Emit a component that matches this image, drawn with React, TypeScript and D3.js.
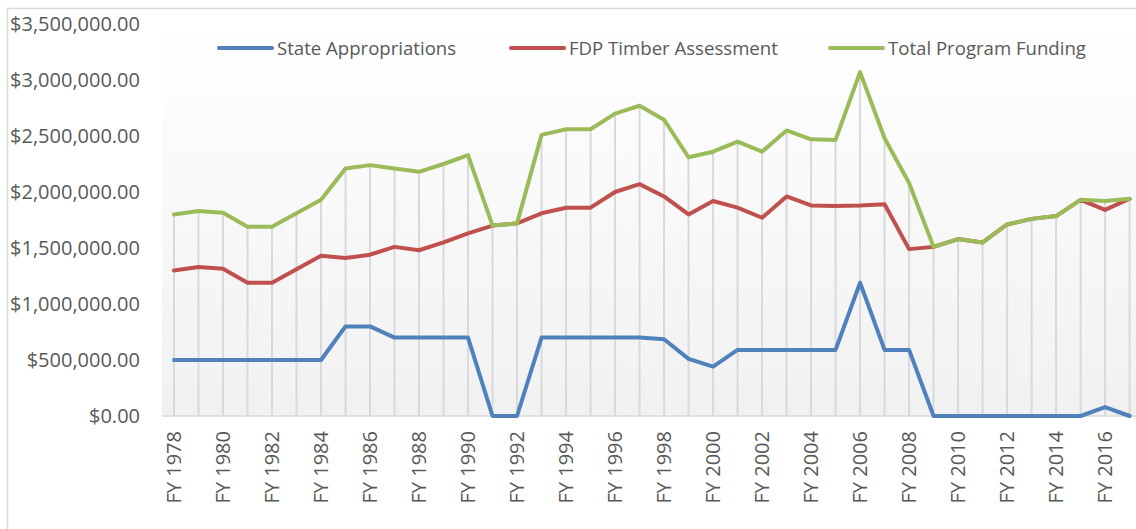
import { useEffect, useRef } from "react";
import * as d3 from "d3";

// fiscal years on the category axis
const years = [
  "FY 1978", "FY 1979", "FY 1980", "FY 1981", "FY 1982", "FY 1983", "FY 1984", "FY 1985",
  "FY 1986", "FY 1987", "FY 1988", "FY 1989", "FY 1990", "FY 1991", "FY 1992", "FY 1993",
  "FY 1994", "FY 1995", "FY 1996", "FY 1997", "FY 1998", "FY 1999", "FY 2000", "FY 2001",
  "FY 2002", "FY 2003", "FY 2004", "FY 2005", "FY 2006", "FY 2007", "FY 2008", "FY 2009",
  "FY 2010", "FY 2011", "FY 2012", "FY 2013", "FY 2014", "FY 2015", "FY 2016", "FY 2017",
];

const stateAppropriations = [
  500000, 500000, 500000, 500000, 500000, 500000, 500000, 800000,
  800000, 700000, 700000, 700000, 700000, 0, 0, 700000,
  700000, 700000, 700000, 700000, 685000, 510000, 440000, 590000,
  590000, 590000, 590000, 590000, 1190000, 590000, 590000, 0,
  0, 0, 0, 0, 0, 0, 80000, 0,
];

const fdpTimber = [
  1300000, 1330000, 1315000, 1190000, 1190000, 1310000, 1430000, 1410000,
  1440000, 1510000, 1480000, 1550000, 1630000, 1700000, 1720000, 1810000,
  1860000, 1860000, 2000000, 2070000, 1960000, 1800000, 1920000, 1860000,
  1770000, 1960000, 1880000, 1875000, 1880000, 1890000, 1490000, 1510000,
  1580000, 1550000, 1710000, 1760000, 1785000, 1930000, 1840000, 1940000,
];

const totalFunding = [
  1800000, 1830000, 1815000, 1690000, 1690000, 1810000, 1930000, 2210000,
  2240000, 2210000, 2180000, 2250000, 2330000, 1700000, 1720000, 2510000,
  2560000, 2560000, 2700000, 2770000, 2645000, 2310000, 2360000, 2450000,
  2360000, 2550000, 2470000, 2465000, 3070000, 2480000, 2080000, 1510000,
  1580000, 1550000, 1710000, 1760000, 1785000, 1930000, 1920000, 1940000,
];

const yTicks = [0, 500000, 1000000, 1500000, 2000000, 2500000, 3000000, 3500000];

const seriesNames = ["State Appropriations", "FDP Timber Assessment", "Total Program Funding"];
const seriesColors = ["#4f81bd", "#c0504d", "#9bbb59"];

const W = 1136;
const H = 529;
const FONT = "'Open Sans', sans-serif";

export default function App() {
  const ref = useRef<SVGSVGElement | null>(null);

  useEffect(() => {
    if (!ref.current) return;
    const svg = d3.select(ref.current);
    svg.selectAll("*").remove();

    const plot = { left: 162, right: 1142, top: 24, bottom: 416 };

    const x = d3.scalePoint<string>().domain(years).range([174, 1129.6]);
    const y = d3.scaleLinear().domain([0, 3500000]).range([plot.bottom, plot.top]);

    // chart border
    svg.append("rect")
      .attr("x", 7.5).attr("y", 8.5)
      .attr("width", W).attr("height", H)
      .attr("fill", "#fff")
      .attr("stroke", "#d9d9d9")
      .attr("stroke-width", 1.5);

    // plot area gradient
    const grad = svg.append("defs").append("linearGradient")
      .attr("id", "plotGrad")
      .attr("x1", 0).attr("y1", 0).attr("x2", 0).attr("y2", 1);
    grad.append("stop").attr("offset", "0%").attr("stop-color", "#ffffff");
    grad.append("stop").attr("offset", "100%").attr("stop-color", "#f1f1f1");

    svg.append("rect")
      .attr("x", plot.left).attr("y", plot.top)
      .attr("width", plot.right - plot.left).attr("height", plot.bottom - plot.top)
      .attr("fill", "url(#plotGrad)");

    // drop lines from the top series down to the axis
    svg.append("g")
      .selectAll("line")
      .data(totalFunding)
      .join("line")
      .attr("x1", (_, i) => x(years[i]) as number)
      .attr("x2", (_, i) => x(years[i]) as number)
      .attr("y1", d => y(d))
      .attr("y2", y(0))
      .attr("stroke", "#d9d9d9")
      .attr("stroke-width", 2);

    // category axis line
    svg.append("line")
      .attr("x1", plot.left).attr("x2", plot.right)
      .attr("y1", y(0)).attr("y2", y(0))
      .attr("stroke", "#d9d9d9")
      .attr("stroke-width", 1.5);

    // y labels
    const fmt = d3.format(",.2f");
    svg.append("g")
      .selectAll("text")
      .data(yTicks)
      .join("text")
      .attr("x", 140)
      .attr("y", d => y(d))
      .attr("dy", "0.35em")
      .attr("text-anchor", "end")
      .attr("font-family", FONT)
      .attr("font-size", 20)
      .attr("fill", "#595959")
      .text(d => "$" + fmt(d));

    // x labels (every other year)
    svg.append("g")
      .selectAll("text")
      .data(years.filter((_, i) => i % 2 === 0))
      .join("text")
      .attr("transform", d => `translate(${x(d)},431) rotate(-90)`)
      .attr("dy", "0.35em")
      .attr("text-anchor", "end")
      .attr("font-family", FONT)
      .attr("font-size", 20)
      .attr("fill", "#595959")
      .text(d => d);

    // lines
    const line = d3.line<number>()
      .x((_, i) => x(years[i]) as number)
      .y(d => y(d));

    [stateAppropriations, fdpTimber, totalFunding].forEach((vals, k) => {
      svg.append("path")
        .datum(vals)
        .attr("d", line)
        .attr("fill", "none")
        .attr("stroke", seriesColors[k])
        .attr("stroke-width", 4)
        .attr("stroke-linejoin", "round")
        .attr("stroke-linecap", "round");
    });

    // legend
    const legendX = [219, 511, 830];
    const lg = svg.append("g");
    seriesNames.forEach((name, k) => {
      lg.append("line")
        .attr("x1", legendX[k]).attr("x2", legendX[k] + 53)
        .attr("y1", 48).attr("y2", 48)
        .attr("stroke", seriesColors[k])
        .attr("stroke-width", 4)
        .attr("stroke-linecap", "round");
      lg.append("text")
        .attr("x", legendX[k] + 58)
        .attr("y", 48)
        .attr("dy", "0.35em")
        .attr("font-family", FONT)
        .attr("font-size", 18.6)
        .attr("fill", "#595959")
        .text(name);
    });
  }, []);

  return (
    <svg
      ref={ref}
      width={W}
      height={H}
      style={{ position: "absolute", left: 0, top: 0, background: "#fff" }}
    />
  );
}
